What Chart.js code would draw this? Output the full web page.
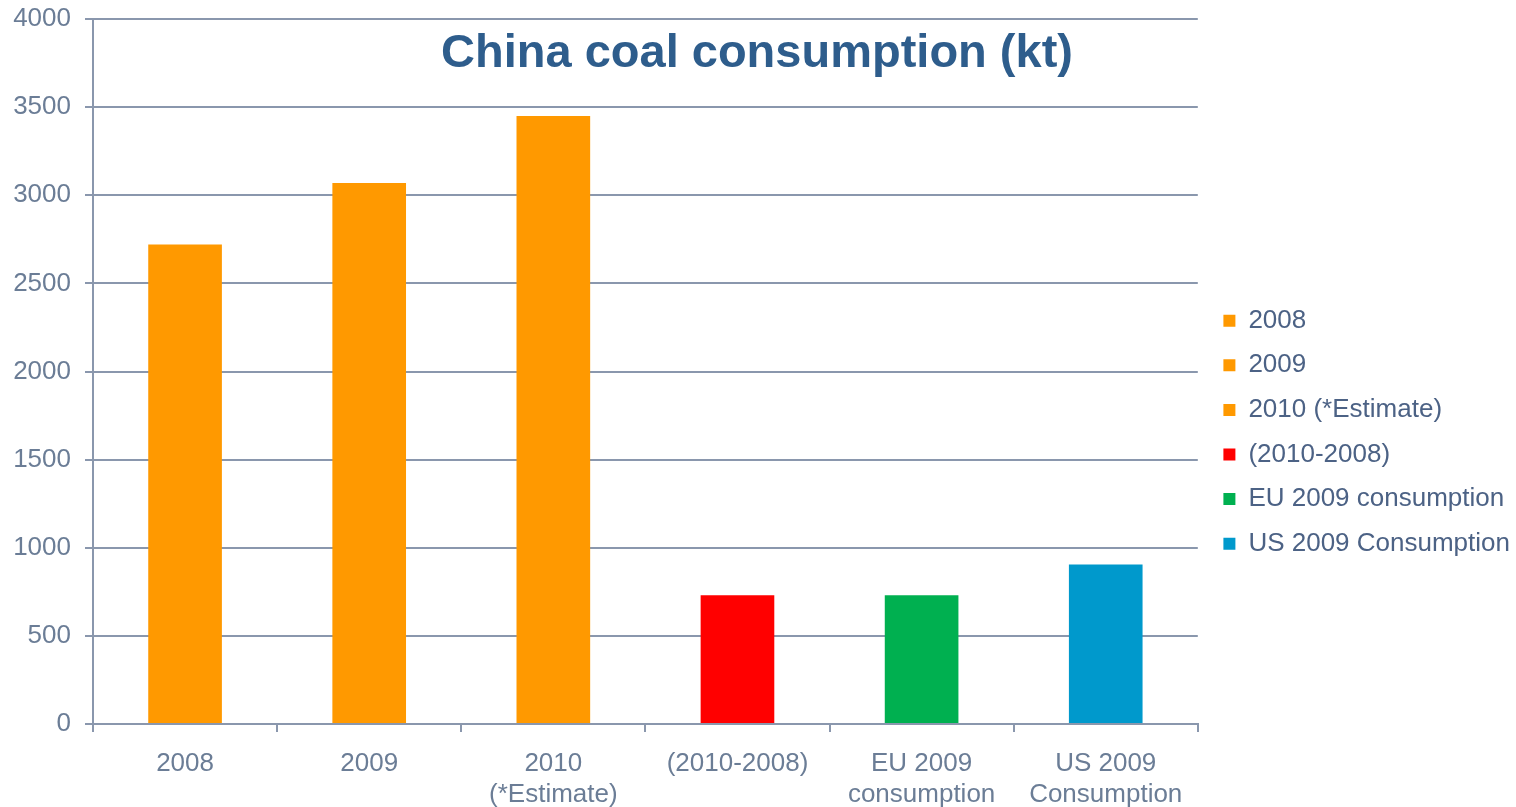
<!DOCTYPE html>
<html>
<head>
<meta charset="utf-8">
<title>China coal consumption (kt)</title>
<script src="https://cdn.jsdelivr.net/npm/chart.js@4/dist/chart.umd.min.js"></script>
<style>
    html, body { margin: 0; padding: 0; background: #fff; }
    #wrap { width: 1516px; height: 807px; position: relative; }
</style>
</head>
<body>
<div id="wrap"><canvas id="coalChart" width="1516" height="807"></canvas></div>
<script>
    // Categories shown under the axis (multi-line where the label wraps)
    const categories = [
        ['2008'],
        ['2009'],
        ['2010', '(*Estimate)'],
        ['(2010-2008)'],
        ['EU 2009', 'consumption'],
        ['US 2009', 'Consumption']
    ];

    // Legend wording for the same bars
    const legendNames = ['2008', '2009', '2010 (*Estimate)', '(2010-2008)', 'EU 2009 consumption', 'US 2009 Consumption'];

    // Consumption, kt
    const consumption = [2720, 3070, 3450, 730, 730, 905];

    const barColors = ['#FF9900', '#FF9900', '#FF9900', '#FF0000', '#00B050', '#0099CC'];

    const yTicks = [0, 500, 1000, 1500, 2000, 2500, 3000, 3500, 4000];

    (function () {
        'use strict';

        const FONT = '"Liberation Sans", Arial, sans-serif';
        const AXIS_COLOR = '#8A97AD';
        const TICK_TEXT = '#6B7D96';
        const LEGEND_TEXT = '#4C6285';

        /** Title sits inside the plot, just under the top gridline */
        const titlePlugin = {
            id: 'innerTitle',
            afterDatasetsDraw(chart) {
                const { ctx } = chart;
                ctx.save();
                ctx.font = 'bold 47px ' + FONT;
                ctx.fillStyle = '#2E5D8C';
                ctx.textAlign = 'center';
                ctx.textBaseline = 'middle';
                ctx.fillText('China coal consumption (kt)', 757, 54);
                ctx.restore();
            }
        };

        /** Pull the legend column a bit closer to the right edge */
        const legendNudge = {
            id: 'legendNudge',
            afterLayout(chart) {
                if (!chart.legend) return;
                chart.legend.left += 7;
                chart.legend.right += 7;
            }
        };

        new Chart(document.getElementById('coalChart'), {
            type: 'bar',
            data: {
                labels: categories,
                datasets: [{
                    data: consumption,
                    backgroundColor: barColors,
                    borderWidth: 0,
                    barPercentage: 0.4,
                    categoryPercentage: 1.0
                }]
            },
            options: {
                responsive: false,
                animation: false,
                layout: { padding: { top: 19, right: 3, left: 0, bottom: 0 } },
                plugins: {
                    tooltip: { enabled: false },
                    legend: {
                        position: 'right',
                        // empty title only nudges the list down a little
                        title: { display: true, text: ' ', padding: { top: 12, bottom: 12 } },
                        labels: {
                            boxWidth: 12,
                            boxHeight: 12,
                            padding: 18.6,
                            color: LEGEND_TEXT,
                            font: { family: FONT, size: 26 },
                            generateLabels: () => legendNames.map((name, i) => ({
                                text: name,
                                fillStyle: barColors[i],
                                strokeStyle: barColors[i],
                                fontColor: LEGEND_TEXT,
                                lineWidth: 0,
                                hidden: false,
                                index: i
                            }))
                        }
                    }
                },
                scales: {
                    x: {
                        grid: {
                            offset: true,
                            drawOnChartArea: false,
                            color: AXIS_COLOR,
                            tickLength: 8,
                            lineWidth: 2
                        },
                        border: { color: AXIS_COLOR, width: 2 },
                        ticks: {
                            color: TICK_TEXT,
                            padding: 16,
                            maxRotation: 0,
                            autoSkip: false,
                            font: { family: FONT, size: 26, lineHeight: 1.2 }
                        },
                        afterFit(scale) {
                            scale.height = 83;
                            scale.paddingLeft = 0;
                            scale.paddingRight = 0;
                        }
                    },
                    y: {
                        min: 0,
                        max: 4000,
                        afterBuildTicks(scale) {
                            scale.ticks = yTicks.map(v => ({ value: v }));
                        },
                        grid: {
                            color: AXIS_COLOR,
                            lineWidth: 2,
                            tickLength: 8
                        },
                        border: { color: AXIS_COLOR, width: 2 },
                        ticks: {
                            color: TICK_TEXT,
                            padding: 14,
                            font: { family: FONT, size: 26 },
                            callback: v => String(v)
                        },
                        afterFit(scale) {
                            scale.width = 93;
                            scale.paddingTop = 0;
                            scale.paddingBottom = 0;
                        }
                    }
                }
            },
            plugins: [titlePlugin, legendNudge]
        });
    })();
</script>
</body>
</html>
